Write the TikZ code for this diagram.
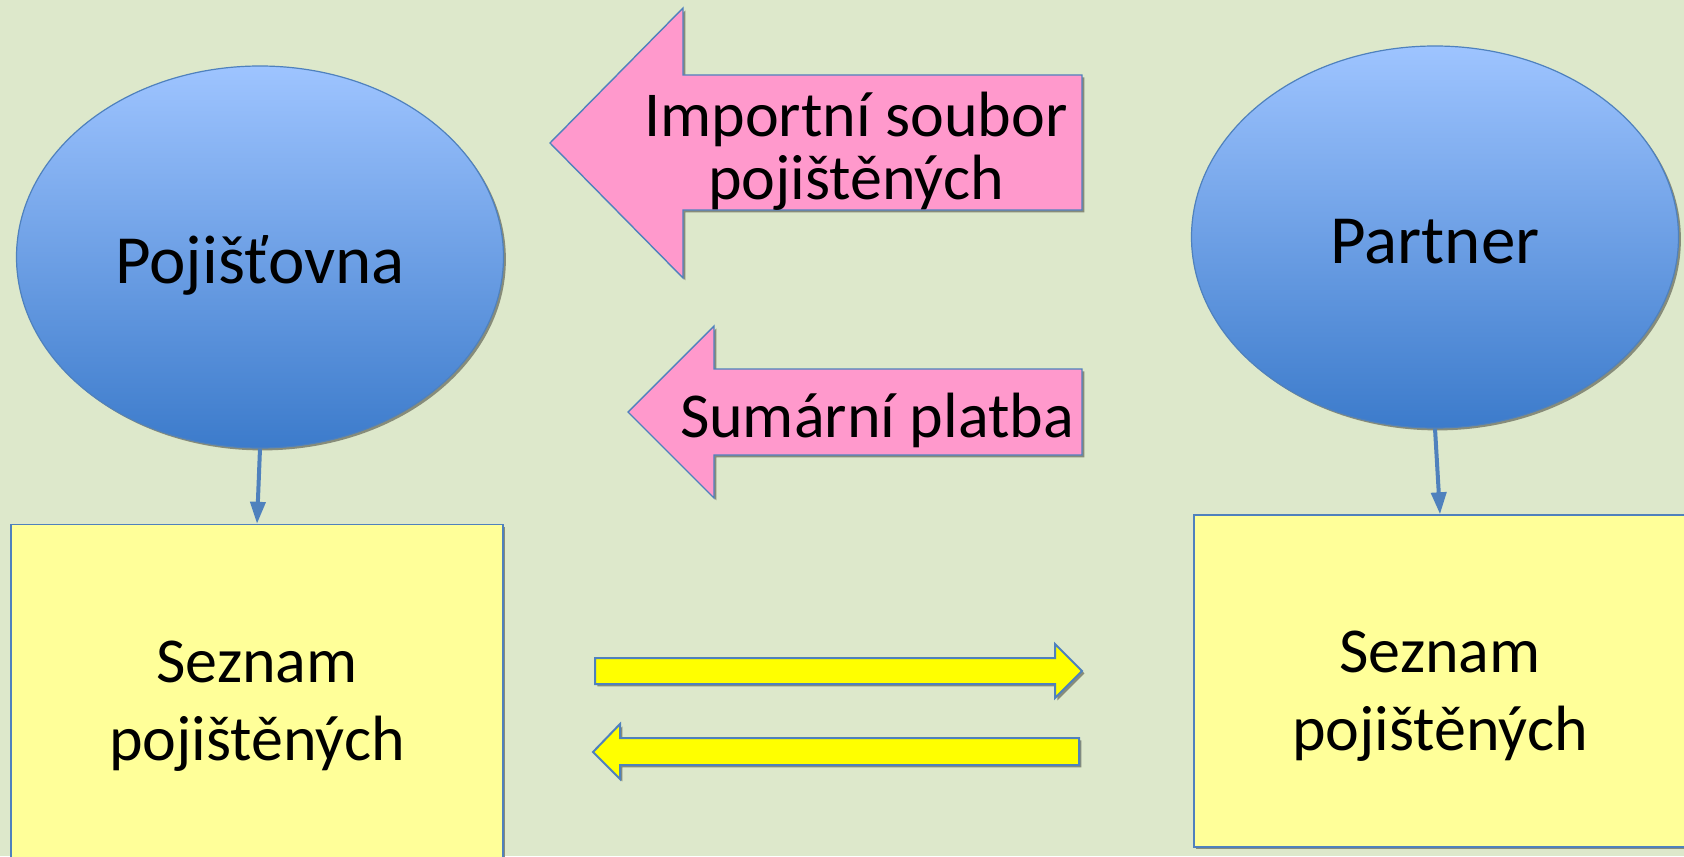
\documentclass[tikz,border=0pt]{standalone}
\usepackage{fontspec}
\setmainfont{Carlito}
\usepackage{xcolor}
\usepackage{tikz}
\usetikzlibrary{arrows.meta}
\usetikzlibrary{shapes.geometric, shadows}

\definecolor{pozadi}{RGB}{221,232,203}
\definecolor{obrys}{RGB}{79,129,189}
\definecolor{modrahore}{RGB}{158,196,255}
\definecolor{modradole}{RGB}{60,123,203}
\definecolor{ruzova}{RGB}{255,153,204}
\definecolor{svetlezluta}{RGB}{255,255,153}
\definecolor{zluta}{RGB}{255,255,0}
\definecolor{stin}{RGB}{135,140,122}

\begin{document}
\begin{tikzpicture}[x=0.5pt, y=-0.5pt,
    stinek/.style={drop shadow={shadow xshift=1.2pt, shadow yshift=-1.2pt, fill=stin, opacity=1}},
    ovalek/.style={ellipse, draw=obrys, line width=0.6pt, top color=modrahore, bottom color=modradole,
        minimum width=243.5pt, minimum height=191pt, text height=26pt, text depth=0pt,
        font=\fontsize{34.5}{41}\selectfont, stinek},
    seznam/.style={rectangle, draw=obrys, line width=0.7pt, fill=svetlezluta, minimum width=246pt,
        align=center, font=\fontsize{32}{39}\selectfont, stinek},
    ruzovasipka/.style={draw=obrys, line width=0.7pt, fill=ruzova, stinek},
    zlutasipka/.style={draw=obrys, line width=1pt, fill=zluta, stinek},
    popisek/.style={inner sep=0pt, font=\fontsize{32}{31.5}\selectfont},
    spoj/.style={draw=obrys, line width=2pt, -{Triangle[width=7.5pt,length=11pt]}}]
                % pozadi
                \useasboundingbox (0,0) rectangle (1684,856);
                \fill[pozadi] (0,0) rectangle (1684,856);

                % Pojistovna a partner
                \node[ovalek] (pojistovna) at (260,257) {Pojišťovna};
                \node[ovalek] (partner) at (1435,237) {Partner};

                % Seznamy pojistenych
                \node[seznam, minimum height=166.5pt] (seznamL) at (257,691)
                    {\rule{0pt}{36pt}Seznam\\pojištěných};
                \node[seznam, minimum height=166pt] (seznamR) at (1440,681)
                    {\rule{0pt}{36pt}Seznam\\pojištěných};
                \draw[spoj] (pojistovna.south) -- (seznamL.north);
                \draw[spoj] (partner.south) -- (seznamR.north);

                % Importni soubor
                \draw[ruzovasipka] (550,143) -- (683,8) -- (683,75) -- (1082,75) -- (1082,210)
                    -- (683,210) -- (683,278) -- cycle;
                \node[popisek, align=center] (importni) at (856,151) {Importní soubor\\pojištěných};

                % Sumarni platba
                \draw[ruzovasipka] (628,412) -- (714,326) -- (714,369) -- (1082,369) -- (1082,455)
                    -- (714,455) -- (714,498) -- cycle;
                \node[popisek, anchor=base] (platba) at (877,437) {Sumární platba};

                % vymena seznamu
                \draw[zlutasipka] (595,658) -- (1055,658) -- (1055,644) -- (1082,671) -- (1055,698)
                    -- (1055,684) -- (595,684) -- cycle;
                \draw[zlutasipka] (593,752) -- (620,724) -- (620,738) -- (1079,738) -- (1079,765)
                    -- (620,765) -- (620,779) -- cycle;
\end{tikzpicture}
\end{document}
